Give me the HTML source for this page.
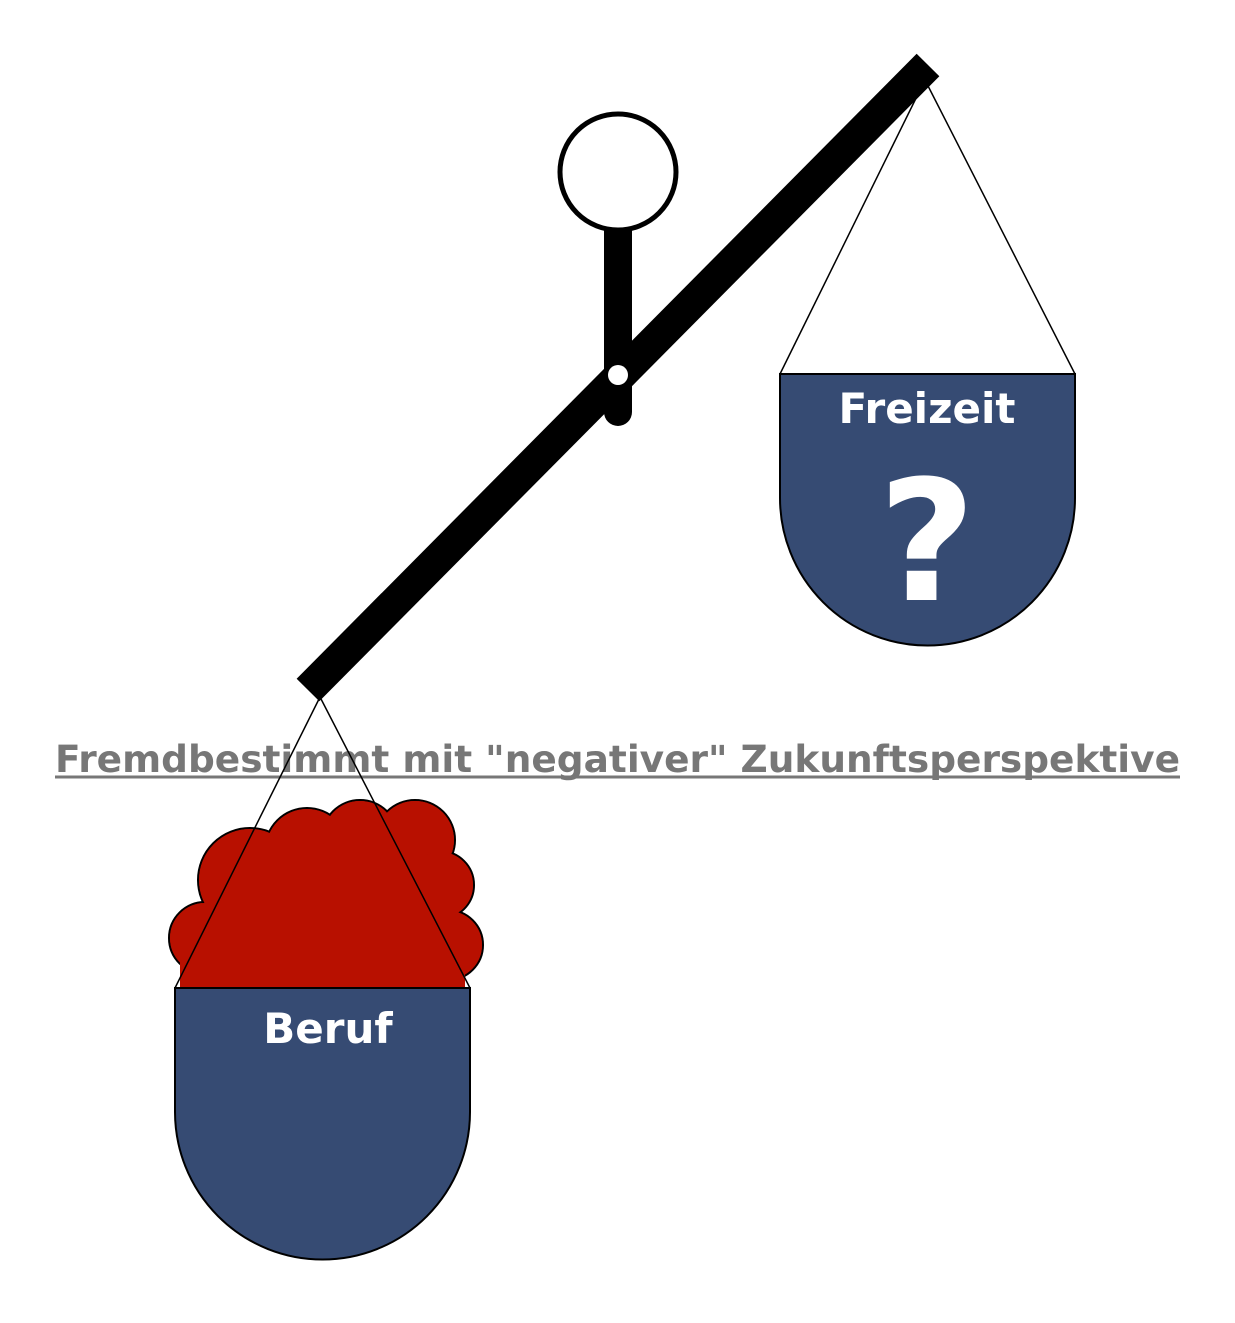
<!DOCTYPE html>
<html><head><style>body{margin:0;background:#fff}</style></head><body>
<svg width="1235" height="1318" viewBox="0 0 1235 1318" xmlns="http://www.w3.org/2000/svg">
<g stroke="#000" stroke-width="2" fill="#b81000">
<circle cx="205" cy="938" r="36"/>
<circle cx="250" cy="880" r="52"/>
<circle cx="307" cy="850" r="42"/>
<circle cx="360" cy="838" r="38"/>
<circle cx="415" cy="840" r="40"/>
<circle cx="440" cy="885" r="34"/>
<circle cx="448" cy="945" r="35"/>
</g>
<g fill="#b81000">
<circle cx="205" cy="938" r="35"/>
<circle cx="250" cy="880" r="51"/>
<circle cx="307" cy="850" r="41"/>
<circle cx="360" cy="838" r="37"/>
<circle cx="415" cy="840" r="39"/>
<circle cx="440" cy="885" r="33"/>
<circle cx="448" cy="945" r="34"/>
<rect x="205" y="860" width="240" height="130"/>
<rect x="180" y="940" width="285" height="50"/>
</g>
<text x="55" y="772" textLength="1125" lengthAdjust="spacingAndGlyphs" font-family="DejaVu Sans, sans-serif" font-weight="bold" font-size="37" fill="#777">Fremdbestimmt mit "negativer" Zukunftsperspektive</text>
<line x1="55" y1="777" x2="1180" y2="777" stroke="#777" stroke-width="3"/>
<path d="M175 988 H470 V1112 A147.5 147.5 0 0 1 175 1112 Z" fill="#364b73" stroke="#000" stroke-width="2"/>
<path d="M780 374 H1075 V498 A147.5 147.5 0 0 1 780 498 Z" fill="#364b73" stroke="#000" stroke-width="2"/>
<g stroke="#000" stroke-width="1.5">
<line x1="320" y1="697" x2="175" y2="988"/><line x1="320" y1="697" x2="470" y2="988"/>
<line x1="925" y1="80" x2="780" y2="374"/><line x1="925" y1="80" x2="1075" y2="374"/>
</g>
<line x1="618" y1="228" x2="618" y2="412" stroke="#000" stroke-width="28" stroke-linecap="round"/>
<line x1="618" y1="228" x2="618" y2="300" stroke="#000" stroke-width="28"/>
<line x1="308" y1="690" x2="928" y2="65" stroke="#000" stroke-width="32"/>
<circle cx="618" cy="172" r="58" fill="#fff" stroke="#000" stroke-width="5"/>
<circle cx="618" cy="375" r="10" fill="#fff"/>
<g font-family="DejaVu Sans, sans-serif" font-weight="bold" fill="#fff" text-anchor="middle">
<text x="927" y="423" font-size="42">Freizeit</text>
<text x="927" y="600" font-size="168">?</text>
<text x="328" y="1043" font-size="42">Beruf</text>
</g>
</svg>
</body></html>
